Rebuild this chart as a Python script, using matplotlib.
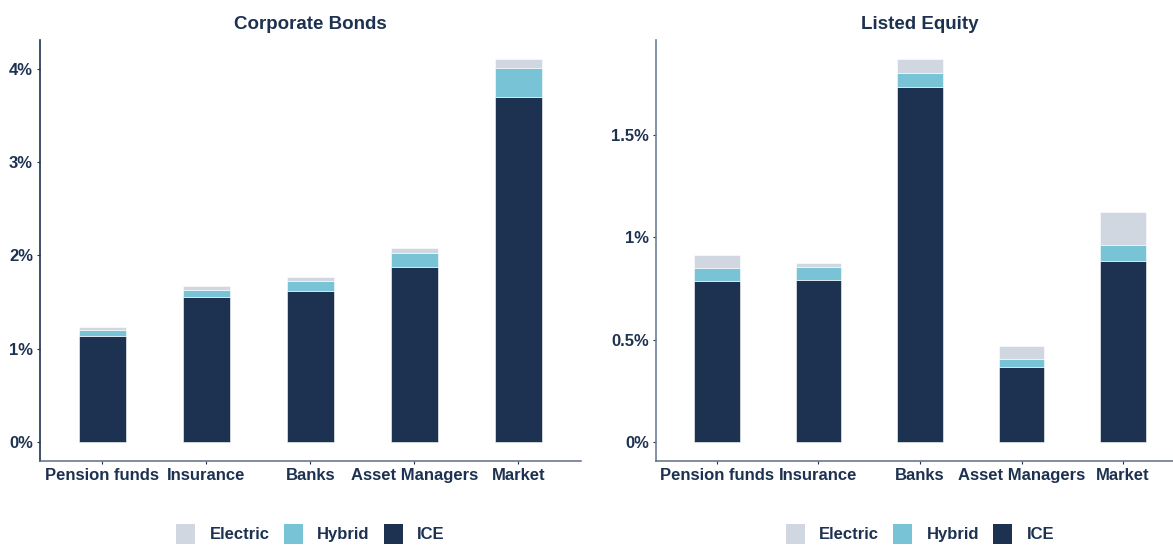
import matplotlib
matplotlib.use("Agg")
import matplotlib.pyplot as plt
from matplotlib.patches import Patch
import numpy as np

plt.rcParams['font.family'] = ['Liberation Sans', 'DejaVu Sans']
plt.rcParams['font.weight'] = 'bold'

categories = ["Pension funds", "Insurance", "Banks", "Asset Managers", "Market"]
series_names = ["Electric", "Hybrid", "ICE"]

# Corporate Bonds (%)
cb_ice = [1.135, 1.558, 1.619, 1.880, 3.696]
cb_hybrid = [0.063, 0.075, 0.104, 0.147, 0.318]
cb_electric = [0.038, 0.040, 0.043, 0.050, 0.090]

# Listed Equity (%)
le_ice = [0.788, 0.792, 1.734, 0.368, 0.883]
le_hybrid = [0.062, 0.060, 0.068, 0.036, 0.078]
le_electric = [0.064, 0.024, 0.068, 0.062, 0.160]

cb_ticks = [0, 1, 2, 3, 4]
cb_ticklabels = ["0%", "1%", "2%", "3%", "4%"]
le_ticks = [0, 0.5, 1, 1.5]
le_ticklabels = ["0%", "0.5%", "1%", "1.5%"]

titles = ["Corporate Bonds", "Listed Equity"]

NAVY = "#1d3150"
C_ICE = "#1d3150"
C_HYB = "#79c3d6"
C_ELE = "#d0d7e1"
AXGREY = "#5d6d87"

W, H = 1173, 548
fig = plt.figure(figsize=(W / 100, H / 100), dpi=100)

ax1 = fig.add_axes([40 / W, 1 - 461 / H, 540.7 / W, 421 / H])
ax2 = fig.add_axes([656 / W, 1 - 461 / H, 528 / W, 421 / H])


def draw(ax, ice, hyb, ele, ticks, ticklabels, title, left_color):
    x = np.arange(len(categories))
    ice = np.array(ice)
    hyb = np.array(hyb)
    ele = np.array(ele)
    kw = dict(width=0.45, edgecolor="white", linewidth=0.4)
    ax.bar(x, ice, color=C_ICE, **kw)
    ax.bar(x, hyb, bottom=ice, color=C_HYB, **kw)
    ax.bar(x, ele, bottom=ice + hyb, color=C_ELE, **kw)
    top = (ice + hyb + ele).max()
    ax.set_ylim(-0.05 * top, 1.05 * top)
    ax.set_xlim(-0.6, len(categories) - 0.4)
    ax.set_xticks(x)
    ax.set_xticklabels(categories, fontsize=12, fontweight="bold", color=NAVY)
    ax.set_yticks(ticks)
    ax.set_yticklabels(ticklabels, fontsize=12, fontweight="bold", color=NAVY)
    ax.tick_params(axis="both", length=2.5, width=0.8, colors=NAVY, pad=2.5)
    for lab in ax.get_xticklabels() + ax.get_yticklabels():
        lab.set_color(NAVY)
    ax.spines["top"].set_visible(False)
    ax.spines["right"].set_visible(False)
    ax.spines["left"].set_color(left_color)
    ax.spines["left"].set_linewidth(1.2)
    ax.spines["bottom"].set_color(AXGREY)
    ax.spines["bottom"].set_linewidth(1.1)
    ax.set_title(title, fontsize=13.5, fontweight="bold", color=NAVY, pad=8)
    handles = [Patch(facecolor=C_ELE, edgecolor="none"),
               Patch(facecolor=C_HYB, edgecolor="none"),
               Patch(facecolor=C_ICE, edgecolor="none")]
    pos = ax.get_position()
    cx = (pos.x0 + pos.x1) / 2
    leg = fig.legend(handles, series_names, loc="center",
                     bbox_to_anchor=(cx, 1 - 534 / H), ncol=3, frameon=False,
                     handlelength=1.15, handleheight=1.55, handletextpad=0.85,
                     columnspacing=0.85, prop={"size": 12, "weight": "bold"})
    for t in leg.get_texts():
        t.set_color(NAVY)


draw(ax1, cb_ice, cb_hybrid, cb_electric, cb_ticks, cb_ticklabels, titles[0], NAVY)
draw(ax2, le_ice, le_hybrid, le_electric, le_ticks, le_ticklabels, titles[1], "#6e7f99")

fig.savefig("out.png", dpi=100)
